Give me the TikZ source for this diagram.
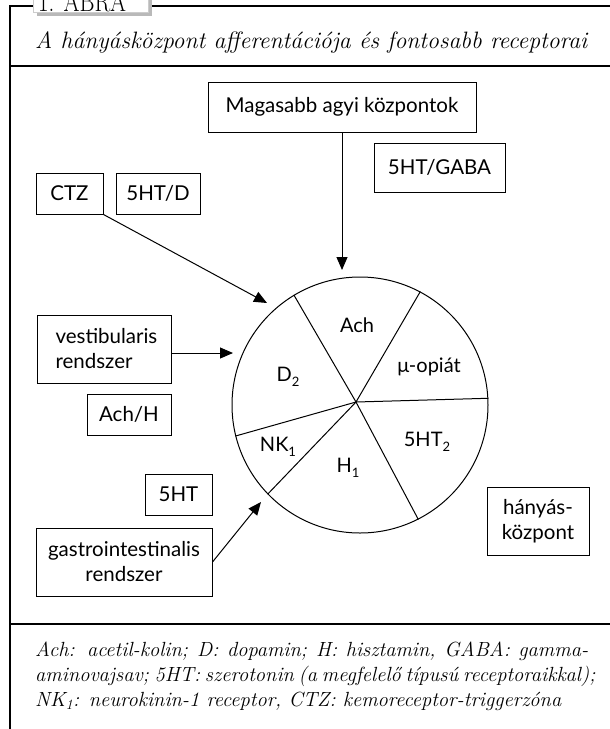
\documentclass[tikz,border=0pt]{standalone}
\usepackage{fontspec}
\newfontfamily\dfont{Lato}
\usetikzlibrary{arrows.meta}
\newcommand\sbs[1]{\raisebox{-0.45ex}{\fontsize{13}{13}\selectfont #1}}
\begin{document}
\begin{tikzpicture}[x=1pt,y=-1pt,
  box/.style={draw, line width=1pt, font=\dfont\fontsize{20.5}{25}\selectfont, inner sep=0pt, align=center},
  arr/.style={line width=1pt, -{Triangle[length=13pt,width=11pt]}},
  frameline/.style={line width=1.1pt},
  lab/.style={font=\dfont\fontsize{20}{22}\selectfont, inner sep=0pt},
  capline/.style={anchor=base west, inner sep=0pt, font=\itshape\fontsize{20.5}{20}\selectfont}]
\useasboundingbox (0,0) rectangle (610,729);
% frame
\draw[frameline] (33,6) -- (10,6) -- (10,729);
\draw[frameline] (152,6) -- (610,6);
\draw[frameline] (10,66) -- (610,66);
\draw[frameline] (10,624) -- (610,624);
% tab
\fill[gray!55] (37,-10) rectangle (152,16);
\filldraw[fill=white, draw=gray!40, line width=0.6pt] (33,-10) rectangle (148,12.5);
\node[anchor=base west, font=\fontsize{28}{28}\selectfont, inner sep=0pt] (tab) at (38,11) {\scalebox{0.82}[1]{1. ÁBRA}};
% title
\node[anchor=base west, inner sep=0pt, font=\itshape\fontsize{23.7}{24}\selectfont] (title) at (35,48) {A hányásközpont afferentációja és fontosabb receptorai};
% boxes
\node[box, minimum width=268pt, minimum height=50pt] (mag) at (342,107) {Magasabb agyi központok};
\node[box, minimum width=131pt, minimum height=49pt] (gaba) at (439.5,167.5) {5HT/GABA};
\node[box, minimum width=67pt, minimum height=41pt] (ctz) at (69.5,193.5) {CTZ};
\node[box, minimum width=84pt, minimum height=41pt] (htd) at (158,193.5) {5HT/D};
\node[box, minimum width=134pt, minimum height=68pt] (vest) at (104,349) {};
\node[box, draw=none, anchor=west, align=left] (vestt) at (55,349) {vestibularis\\rendszer};
\node[box, minimum width=84pt, minimum height=41pt] (achh) at (129,414.5) {Ach/H};
\node[box, minimum width=67pt, minimum height=41pt] (ht) at (178.5,494.5) {5HT};
\node[box, minimum width=176pt, minimum height=68pt] (gi) at (124,562) {gastrointestinalis\\rendszer};
\node[box, minimum width=102pt, minimum height=68pt] (hk) at (538,521) {hányás-\\központ};
% centre circle
\node[draw, circle, line width=1pt, minimum size=256pt, inner sep=0pt] (hc) at (360,405) {};
\coordinate (sc) at (356,402);
\foreach \a in {121,62.6,3.2,-63.8,-136,194} \draw[line width=1pt] (sc) -- (hc.\a);
\node[lab] (lach) at (357,325) {Ach};
\node[lab] (lmu) at (429,367) {μ-opiát};
\node[lab] (ld) at (288,377) {D\sbs{2}};
\node[lab] (lnk) at (278,447) {NK\sbs{1}};
\node[lab] (lh) at (348,468) {H\sbs{1}};
\node[lab] (l5) at (427,442) {5HT\sbs{2}};
% arrows
\coordinate (t1) at (342,270);
\coordinate (t2) at (267,303);
\coordinate (t3) at (233,353);
\coordinate (t4) at (261,502);
\draw[arr] (mag.south) -- (t1);
\draw[arr] (ctz.south east) -- (t2);
\draw[arr] (t3 -| vest.east) -- (t3);
\draw[arr] (gi.east) -- (t4);
% caption
\node[capline] (c1) at (35,656) {\makebox[553pt][s]{Ach: acetil-kolin; D: dopamin; H: hisztamin, GABA: gamma-}};
\node[capline] (c2) at (35,681) {\makebox[553pt][s]{aminovajsav; 5HT: szerotonin (a megfelelő típusú receptoraikkal);}};
\node[capline] (c3) at (35,706) {NK\textsubscript{1}: neurokinin-1 receptor, CTZ: kemoreceptor-triggerzóna};
\end{tikzpicture}
\end{document}
